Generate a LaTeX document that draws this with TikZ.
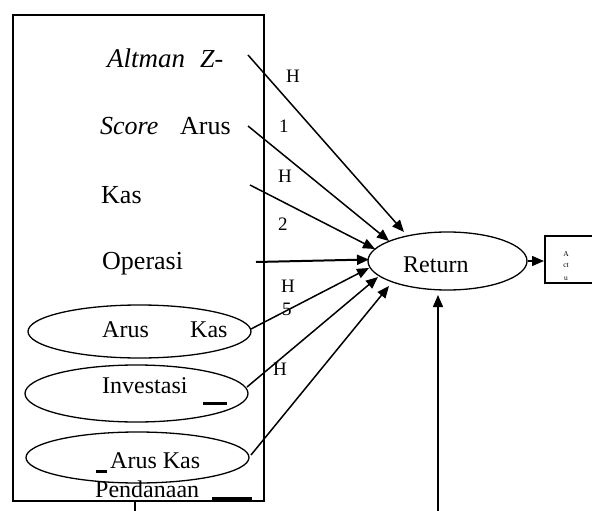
\documentclass[tikz,border=0pt]{standalone}
\usepackage{fontspec}
\setmainfont{Liberation Serif}
\usetikzlibrary{shapes.geometric,arrows.meta}
\begin{document}
\begin{tikzpicture}[x=1pt,y=-1pt,
  big/.style={font=\fontsize{26}{30}\selectfont, anchor=base west, inner sep=0pt},
  mid/.style={font=\fontsize{24}{28}\selectfont, anchor=base west, inner sep=0pt},
  lab/.style={font=\fontsize{19}{22}\selectfont, anchor=base west, inner sep=0pt},
  tiny/.style={font=\fontsize{7.5}{8}\selectfont, anchor=base, inner sep=0pt},
  oval/.style={draw, ellipse, line width=1.3pt, inner sep=0pt},
  arr/.style={line width=1.5pt, -{Triangle[length=12pt,width=10pt]}},
  bar/.style={line width=3pt},
]
\useasboundingbox (0,0) rectangle (592,511);
\clip (0,0) rectangle (592,511);
\fill[white] (0,0) rectangle (592,511);

% frame
\node[draw, line width=2pt, minimum width=251pt, minimum height=486pt, anchor=north west, inner sep=0pt] (frame) at (12,14) {};

% ovals
\node[oval, minimum width=223pt, minimum height=53pt] (e1) at (139.5,331.5) {};
\node[oval, minimum width=223pt, minimum height=57pt] (e2) at (136.5,393.5) {};
\node[oval, minimum width=223pt, minimum height=51pt] (e3) at (137.5,457.5) {};
\node[oval, minimum width=159pt, minimum height=58pt] (ret) at (447.5,261) {};

% texts
\node[big, font=\fontsize{27}{30}\selectfont] (t1a) at (107,67) {\itshape Altman};
\node[big] (t1b) at (200,67) {\itshape Z-};
\node[big] (t2a) at (100,135) {\itshape Score};
\node[big] (t2b) at (180,135) {Arus};
\node[big] (t3) at (101,203) {Kas};
\node[big] (t4) at (102,269) {Operasi};
\node[mid] (t5a) at (102,337) {Arus};
\node[mid] (t5b) at (190,337) {Kas};
\node[mid] (t6) at (102,393) {Investasi};
\node[mid] (t7) at (110,468) {Arus Kas};
\node[mid] (t8) at (95,497) {Pendanaan};
\node[mid] (tr) at (403,272) {Return};

% bars
\coordinate (ba1) at (203,403.5); \coordinate (ba2) at (227,403.5);
\draw[bar] (ba1) -- (ba2);
\coordinate (bb1) at (96,471); \coordinate (bb2) at (107,471);
\draw[bar] (bb1) -- (bb2);
\coordinate (bc1) at (212,498.5); \coordinate (bc2) at (252,498.5);
\draw[bar] (bc1) -- (bc2);

% labels
\node[lab] (h1) at (286,83) {H};
\node[lab] (n1) at (279,132) {1};
\node[lab] (h2) at (278,182) {H};
\node[lab] (n2) at (278,230) {2};
\node[lab] (h3) at (281,292) {H};
\node[lab] (n5) at (282,315) {5};
\node[lab] (h4) at (273,375) {H};

% actual box
\node[tiny] (a1) at (566,256) {A};
\node[tiny] (a2) at (566,267) {ct};
\node[tiny] (a3) at (566,280) {u};
\node[draw, line width=1.5pt, minimum width=60pt, minimum height=47pt, anchor=north west, inner sep=0pt] (act) at (544,235) {};

% arrows
\coordinate (s1) at (248,55);  \coordinate (d1) at (404,232);
\coordinate (s2) at (248,126); \coordinate (d2) at (389,241);
\coordinate (s3) at (250,185); \coordinate (d3) at (375,249);
\coordinate (s4) at (256,262); \coordinate (d4) at (369,259.5);
\coordinate (s5) at (251,329); \coordinate (d5) at (369,268);
\coordinate (s6) at (247,387); \coordinate (d6) at (378,277);
\coordinate (s7) at (251,455); \coordinate (d7) at (389,286);
\draw[arr] (s1) -- (d1);
\draw[arr] (s2) -- (d2);
\draw[arr] (s3) -- (d3);
\draw[arr, line width=2pt] (s4) -- (d4);
\draw[arr] (s5) -- (d5);
\draw[arr] (s6) -- (d6);
\draw[arr] (s7) -- (d7);

\coordinate (b2) at (438,511); \coordinate (rt) at (438,295);
\draw[arr] (b2) -- (rt);
\draw[arr] (ret.east) -- (act.west |- ret.east);

\coordinate (b1) at (135,511);
\draw[line width=2.5pt] (frame.south -| b1) -- (b1);
\end{tikzpicture}
\end{document}
